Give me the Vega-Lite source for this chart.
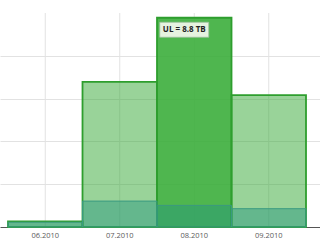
{
  "$schema": "https://vega.github.io/schema/vega-lite/v6.json",
  "width": 320,
  "height": 214,
  "autosize": {"type": "none"},
  "padding": {"top": 13, "left": 0, "right": 0, "bottom": 16},
  "background": "white",
  "config": {"view": {"stroke": null}},
  "datasets": {
    "traffic": [
      {"month": "06.2010", "UL": 0.24, "DL": 0.2},
      {"month": "07.2010", "UL": 6.1, "DL": 1.09},
      {"month": "08.2010", "UL": 8.8, "DL": 0.91},
      {"month": "09.2010", "UL": 5.55, "DL": 0.77}
    ],
    "tip": [
      {"month": "08.2010", "UL": 8.8, "label": "UL = 8.8 TB"}
    ]
  },
  "layer": [
    {
      "data": {"name": "traffic"},
      "mark": {"type": "rule", "color": "#e2e2e2", "strokeWidth": 1},
      "encoding": {
        "x": {
          "field": "month", "type": "ordinal", "sort": null,
          "scale": {"type": "band", "paddingInner": 0, "paddingOuter": 0.1477, "align": 0.364},
          "axis": {
            "title": null, "grid": false, "ticks": false, "domain": true, "domainColor": "#555555",
            "domainWidth": 1.2, "labelAngle": 0, "labelColor": "#5a5a5a",
            "labelFont": "Open Sans", "labelFontSize": 7.5, "labelPadding": 4
          }
        }
      }
    },
    {
      "data": {"name": "traffic"},
      "mark": {"type": "bar", "strokeWidth": 1.8, "stroke": "#2e9e2e"},
      "encoding": {
        "x": {"field": "month", "type": "ordinal", "sort": null},
        "y": {
          "field": "UL", "type": "quantitative",
          "scale": {"domain": [0, 9], "nice": false},
          "axis": {
            "title": null, "labels": false, "ticks": false, "domain": false,
            "grid": true, "gridColor": "#e2e2e2", "values": [1.8, 3.6, 5.4, 7.2]
          }
        },
        "fill": {
          "condition": {"test": "datum.month === '08.2010'", "value": "#3cae3c"},
          "value": "#33a833"
        },
        "fillOpacity": {
          "condition": {"test": "datum.month === '08.2010'", "value": 0.9},
          "value": 0.5
        }
      }
    },
    {
      "data": {"name": "traffic"},
      "mark": {"type": "bar", "stroke": "#3a9a80", "strokeWidth": 1, "fill": "#23957f", "fillOpacity": 0.45},
      "encoding": {
        "x": {"field": "month", "type": "ordinal", "sort": null},
        "y": {"field": "DL", "type": "quantitative"}
      }
    },
    {
      "mark": {"type": "rule", "color": "#444444", "strokeWidth": 1.5},
      "encoding": {"y": {"datum": 9}}
    },
    {
      "data": {"name": "tip"},
      "mark": {
        "type": "point", "filled": true, "fill": "#eef6e8", "fillOpacity": 0.95,
        "stroke": "#9cbf9c", "strokeWidth": 0.8,
        "shape": "M-1,-0.306L1,-0.306L1,0.306L-1,0.306Z",
        "size": 2401, "xOffset": -10, "yOffset": 12
      },
      "encoding": {
        "x": {"field": "month", "type": "ordinal"},
        "y": {"field": "UL", "type": "quantitative"}
      }
    },
    {
      "data": {"name": "tip"},
      "mark": {
        "type": "text", "font": "Open Sans", "fontSize": 8, "fontWeight": "bold",
        "color": "#222222", "align": "center", "baseline": "middle", "dx": -10, "dy": 12
      },
      "encoding": {
        "x": {"field": "month", "type": "ordinal"},
        "y": {"field": "UL", "type": "quantitative"},
        "text": {"field": "label"}
      }
    }
  ]
}
